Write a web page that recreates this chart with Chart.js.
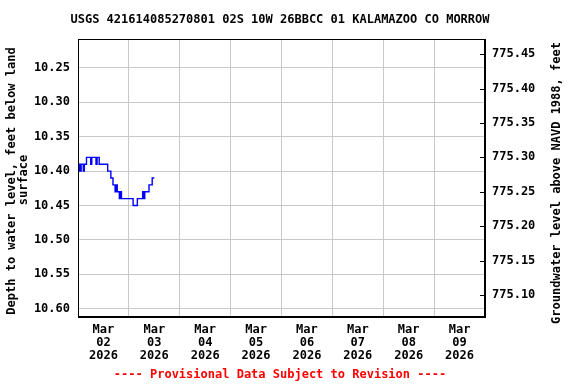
<!DOCTYPE html>
<html>
<head>
<meta charset="utf-8">
<script src="https://cdn.jsdelivr.net/npm/chart.js@4.4.1/dist/chart.umd.min.js"></script>
<style>
  html, body { margin: 0; padding: 0; background: #fff; }
  #wrap { width: 576px; height: 384px; }
</style>
</head>
<body>
<div id="wrap"><canvas id="chart" width="576" height="384"></canvas></div>
<script>
// ===== data =====
const TITLE = 'USGS 421614085270801 02S 10W 26BBCC 01 KALAMAZOO CO MORROW';
const LEFT_TITLE = ['Depth to water level, feet below land', 'surface'];
const RIGHT_TITLE = 'Groundwater level above NAVD 1988, feet';
const FOOTNOTE = '---- Provisional Data Subject to Revision ----';

// x is hours after 2026-03-01 00:00; readings every 30 min starting Mar 1 12:00
const startHour = 12;
const stepHours = 0.5;
const depth = [
  10.40, 10.39, 10.40, 10.39, 10.39, 10.40, 10.39, 10.39,
  10.38, 10.38, 10.38, 10.38, 10.39, 10.38, 10.38, 10.38,
  10.38, 10.39, 10.38, 10.38, 10.39, 10.39, 10.39, 10.39,
  10.39, 10.39, 10.39, 10.39, 10.40, 10.40, 10.40, 10.41,
  10.41, 10.42, 10.42, 10.43, 10.42, 10.43, 10.43, 10.44,
  10.43, 10.44, 10.44, 10.44, 10.44, 10.44, 10.44, 10.44,
  10.44, 10.44, 10.44, 10.44, 10.45, 10.45, 10.45, 10.45,
  10.44, 10.44, 10.44, 10.44, 10.44, 10.43, 10.44, 10.43,
  10.43, 10.43, 10.43, 10.42, 10.42, 10.42, 10.41, 10.41,
  10.41
];

const dayTickHours = [24, 48, 72, 96, 120, 144, 168, 192];
const dayTickLabels = [
  ['Mar', '02', '2026'], ['Mar', '03', '2026'], ['Mar', '04', '2026'], ['Mar', '05', '2026'],
  ['Mar', '06', '2026'], ['Mar', '07', '2026'], ['Mar', '08', '2026'], ['Mar', '09', '2026']
];
const gridHours = [36, 60, 84, 108, 132, 156, 180];
const hourRange = [12, 204];

const depthTicks = [10.25, 10.30, 10.35, 10.40, 10.45, 10.50, 10.55, 10.60];
const depthRange = [10.208, 10.612];
const elevTicks = [775.10, 775.15, 775.20, 775.25, 775.30, 775.35, 775.40, 775.45];
const landSurface = 785.68; // elevation = landSurface - depth

// ===== build =====
const FONT = '"DejaVu Sans Mono", "Liberation Mono", monospace';
const points = depth.map((d, i) => ({ x: startHour + i * stepHours, y: d }));
const allXTicks = dayTickHours.concat(gridHours).sort((a, b) => a - b);

function rotatedText(ctx, text, x, y) {
  ctx.save();
  ctx.translate(x, y);
  ctx.rotate(-Math.PI / 2);
  ctx.fillText(text, 0, 0);
  ctx.restore();
}

const frame = {
  id: 'frame',
  afterDraw(chart) {
    const { ctx, chartArea: a } = chart;
    ctx.save();
    ctx.strokeStyle = '#000';
    ctx.lineWidth = 1;
    ctx.strokeRect(Math.round(a.left) + 0.5, Math.round(a.top) + 0.5,
      Math.round(a.right - a.left) - 1, Math.round(a.bottom - a.top) - 1);

    // short inward ticks on the right axis
    const y2 = chart.scales.y2;
    ctx.beginPath();
    elevTicks.forEach(v => {
      const py = Math.round(y2.getPixelForValue(v)) + 0.5;
      ctx.moveTo(a.right - 5, py);
      ctx.lineTo(a.right, py);
    });
    ctx.stroke();

    ctx.fillStyle = '#000';
    ctx.font = 'bold 12px ' + FONT;
    ctx.textAlign = 'center';
    ctx.textBaseline = 'middle';
    ctx.fillText(TITLE, 280, 20);

    rotatedText(ctx, LEFT_TITLE[0], 12, 181);
    rotatedText(ctx, LEFT_TITLE[1], 24, 180);
    rotatedText(ctx, RIGHT_TITLE, 557, 183);

    ctx.fillStyle = '#ff0000';
    ctx.fillText(FOOTNOTE, 280, 375);
    ctx.restore();
  }
};

new Chart(document.getElementById('chart'), {
  type: 'line',
  data: {
    datasets: [{
      data: points,
      borderColor: '#0000ff',
      borderWidth: 1.4,
      pointRadius: 0,
      fill: false,
      tension: 0,
      stepped: 'before'
    }]
  },
  options: {
    responsive: false,
    animation: false,
    devicePixelRatio: 1,
    layout: { padding: { top: 39, left: 0, right: 0, bottom: 0 } },
    plugins: { legend: { display: false }, tooltip: { enabled: false }, title: { display: false } },
    scales: {
      x: {
        type: 'linear',
        position: 'bottom',
        min: hourRange[0],
        max: hourRange[1],
        afterBuildTicks: s => { s.ticks = allXTicks.map(v => ({ value: v })); },
        afterFit: s => { s.height = 67; },
        grid: {
          drawTicks: false,
          color: c => (c.tick && c.tick.value % 24 === 12) ? '#c8c8c8' : 'rgba(0,0,0,0)'
        },
        border: { display: true, color: '#000' },
        ticks: {
          autoSkip: false,
          maxRotation: 0,
          padding: 6,
          color: '#000',
          font: { family: FONT, size: 12, weight: 'bold', lineHeight: '13px' },
          callback: v => {
            const i = dayTickHours.indexOf(v);
            return i >= 0 ? dayTickLabels[i] : '';
          }
        }
      },
      y: {
        type: 'linear',
        position: 'left',
        reverse: true,
        min: depthRange[0],
        max: depthRange[1],
        afterBuildTicks: s => { s.ticks = depthTicks.map(v => ({ value: v })); },
        afterFit: s => { s.width = 78; },
        grid: { drawTicks: false, color: '#c8c8c8' },
        border: { display: true, color: '#000' },
        ticks: {
          padding: 8,
          color: '#000',
          font: { family: FONT, size: 12, weight: 'bold' },
          callback: v => v.toFixed(2)
        }
      },
      y2: {
        type: 'linear',
        position: 'right',
        min: landSurface - depthRange[1],
        max: landSurface - depthRange[0],
        afterBuildTicks: s => { s.ticks = elevTicks.map(v => ({ value: v })); },
        afterFit: s => { s.width = 91; },
        grid: { drawOnChartArea: false, drawTicks: false },
        border: { display: true, color: '#000' },
        ticks: {
          padding: 7,
          color: '#000',
          font: { family: FONT, size: 12, weight: 'bold' },
          callback: v => v.toFixed(2)
        }
      }
    }
  },
  plugins: [frame]
});
</script>
</body>
</html>
